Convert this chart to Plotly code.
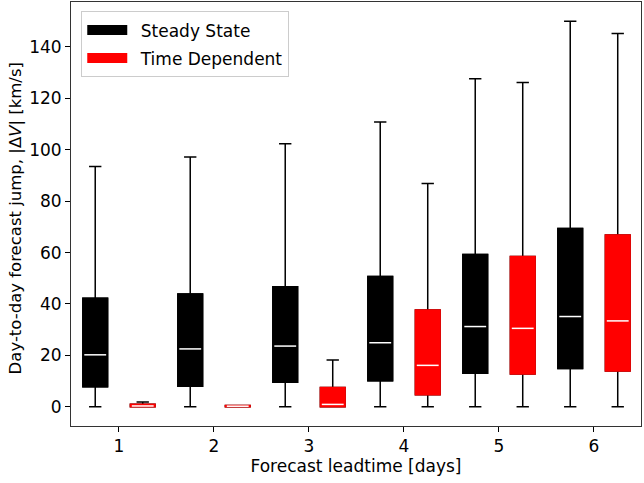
import plotly.graph_objects as go

days = [1, 2, 3, 4, 5, 6]

# Steady State
ss_min = [0, 0, 0, 0, 0, 0]
ss_q1 = [7.8, 8.0, 9.5, 10.1, 13.0, 14.9]
ss_med = [20.2, 22.5, 23.6, 24.9, 31.2, 35.1]
ss_q3 = [42.2, 43.9, 46.7, 50.7, 59.2, 69.4]
ss_max = [93.5, 97.2, 102.3, 110.8, 127.6, 150.0]

# Time Dependent
td_min = [0, 0, 0, 0, 0, 0]
td_q1 = [0.0, 0.0, 0.0, 4.7, 12.7, 13.9]
td_med = [0.3, 0.2, 0.9, 16.1, 30.5, 33.4]
td_q3 = [1.0, 0.5, 7.5, 37.6, 58.5, 66.8]
td_max = [1.8, 0.5, 18.2, 86.9, 126.2, 145.2]

series = [
    ("Steady State", "black", -0.25, ss_min, ss_q1, ss_med, ss_q3, ss_max),
    ("Time Dependent", "red", 0.25, td_min, td_q1, td_med, td_q3, td_max),
]

BW = 0.26
FONT = "DejaVu Sans"

fig = go.Figure()
for i, (name, col, off, mn, q1, med, q3, mx) in enumerate(series):
    xs = [d + off for d in days]
    # whiskers and caps (black)
    fig.add_trace(go.Box(
        x=xs, q1=q1, median=med, q3=q3, lowerfence=mn, upperfence=mx,
        width=BW, whiskerwidth=0.5, line=dict(color="black", width=1.5),
        fillcolor="rgba(0,0,0,0)", showlegend=False, hoverinfo="skip",
    ))
    # filled box covering outline
    fig.add_trace(go.Box(
        x=xs, q1=q1, median=med, q3=q3, lowerfence=q1, upperfence=q3,
        width=BW, whiskerwidth=0, line=dict(color=col, width=1.5),
        fillcolor=col, showlegend=False, hoverinfo="skip",
    ))
    # median line (white)
    mx_x, mx_y = [], []
    for x, m in zip(xs, med):
        mx_x += [x - BW / 2 + 0.015, x + BW / 2 - 0.015, None]
        mx_y += [m, m, None]
    fig.add_trace(go.Scatter(
        x=mx_x, y=mx_y, mode="lines", line=dict(color="white", width=1.5),
        showlegend=False, hoverinfo="skip",
    ))
    # legend entry
    fig.add_trace(go.Scatter(
        x=[None], y=[None], mode="lines", name="\u2002" + name, legendgroup=f"g{i}",
        line=dict(color=col, width=11),
    ))

axis_common = dict(
    showline=True, linecolor="#333333", linewidth=1, mirror=True,
    ticks="outside", ticklen=5, tickwidth=1, tickcolor="black",
    showgrid=False, zeroline=False, automargin=False,
    tickfont=dict(family=FONT, size=17, color="black"),
)

fig.update_layout(
    width=644, height=483,
    margin=dict(l=71, r=3, t=2, b=57),
    paper_bgcolor="white", plot_bgcolor="white",
    font=dict(family=FONT, size=17, color="black"),
    xaxis=dict(range=[0.495, 6.495], tickvals=days, ticktext=[str(d) for d in days],
               title=dict(text="Forecast leadtime [days]", standoff=4,
                          font=dict(family=FONT, size=17)),
               **axis_common),
    yaxis=dict(range=[-7.5, 157.5], tickvals=[0, 20, 40, 60, 80, 100, 120, 140],
               **axis_common),
    annotations=[dict(
        text="Day-to-day forecast jump, |Δ<i>V</i>| [km/s]",
        xref="paper", yref="paper", x=-0.098, y=0.49,
        xanchor="center", yanchor="middle", textangle=-90, showarrow=False,
        font=dict(family=FONT, size=16.5, color="black"),
    )],
    legend=dict(x=0.018, y=0.978, xanchor="left", yanchor="top",
                bgcolor="white", bordercolor="#cccccc", borderwidth=1,
                font=dict(family=FONT, size=17, color="black"),
                traceorder="grouped", itemwidth=40, tracegroupgap=3),
    showlegend=True,
)

fig.write_html("out.html", config={"displayModeBar": False},
               post_script="document.body.style.margin='0';")
